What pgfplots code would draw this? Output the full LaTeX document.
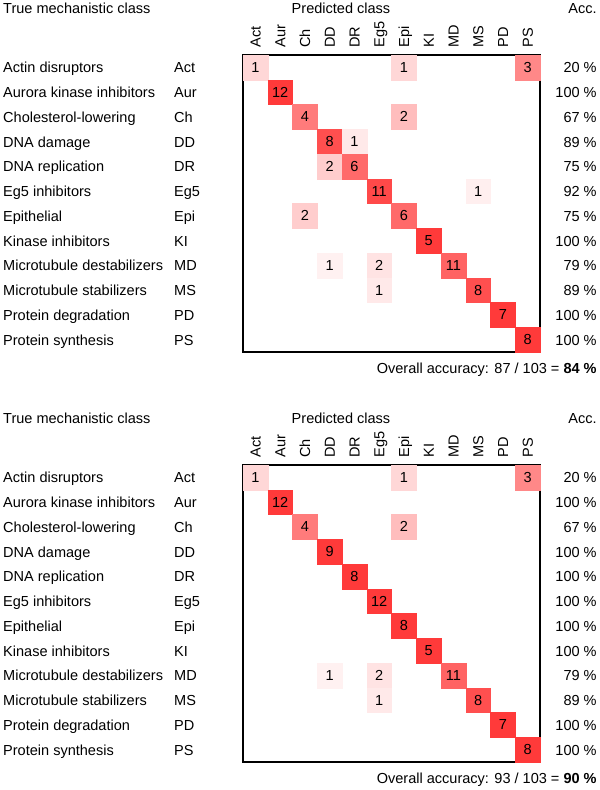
\documentclass[border=0pt]{standalone}
\usepackage{pgfplots}
\usepackage{pgfplotstable}
\pgfplotsset{compat=1.18}
\usepackage{fontspec}
\setmainfont{Liberation Sans}
\newcommand\ff{\fontsize{10.9}{13}\selectfont}

% x = predicted column, y = true row, v = count, f = count / row total
\pgfplotstableread{
x y v f
0 0 1 0.2
6 0 1 0.2
11 0 3 0.6
1 1 12 1
2 2 4 0.667
6 2 2 0.333
3 3 8 0.889
4 3 1 0.111
3 4 2 0.25
4 4 6 0.75
5 5 11 0.917
9 5 1 0.083
2 6 2 0.25
6 6 6 0.75
7 7 5 1
3 8 1 0.071
5 8 2 0.143
8 8 11 0.786
5 9 1 0.111
9 9 8 0.889
10 10 7 1
11 11 8 1
}\tabA

\pgfplotstableread{
x y v f
0 0 1 0.2
6 0 1 0.2
11 0 3 0.6
1 1 12 1
2 2 4 0.667
6 2 2 0.333
3 3 9 1
4 4 8 1
5 5 12 1
6 6 8 1
7 7 5 1
3 8 1 0.071
5 8 2 0.143
8 8 11 0.786
5 9 1 0.111
9 9 8 0.889
10 10 7 1
11 11 8 1
}\tabB

\pgfplotsset{
  cm/.style={
    scale only axis, width=222.75pt, height=222.75pt,
    xmin=-0.5, xmax=11.5, ymin=-0.5, ymax=11.5, y dir=reverse,
    xtick=\empty, ytick=\empty, clip=false,
    axis line style={line width=1.1pt},
    anchor=north west,
    colormap={wr}{rgb255(0cm)=(255,255,255); rgb255(1cm)=(255,58,58)},
    point meta min=0, point meta max=1,
  },
  cells/.style={
    scatter, only marks, mark=square*, mark size=9.2pt,
    scatter/use mapped color={draw=mapped color, fill=mapped color},
    mark options={line width=0.2pt},
    point meta=explicit,
  },
  nums/.style={
    only marks, mark=none,
    point meta=explicit symbolic,
    nodes near coords,
    nodes near coords style={anchor=center, text=black, font=\ff, inner sep=0pt},
  },
}

\newcommand\rowlab[4]{%
  \node[anchor=base west, inner sep=0pt, font=\ff] at (axis cs:-10.2,#1+0.22) {#2};
  \node[anchor=base west, inner sep=0pt, font=\ff] at (axis cs:-3.29,#1+0.22) {#3};
  \node[anchor=base east, inner sep=0pt, font=\ff] at (axis cs:13.8,#1+0.22) {#4};
}
\newcommand\collab[2]{%
  \node[rotate=90, anchor=base west, inner sep=0pt, font=\ff] at (axis cs:#1+0.21,-0.79) {#2};
}
\newcommand\common{%
  \node[anchor=base west, inner sep=0pt, font=\ff] at (axis cs:-10.2,-2.16) {True mechanistic class};
  \node[anchor=base, inner sep=0pt, font=\ff] at (axis cs:3.46,-2.16) {Predicted class};
  \node[anchor=base east, inner sep=0pt, font=\ff] at (axis cs:13.8,-2.16) {Acc.};
  \collab{0}{Act}\collab{1}{Aur}\collab{2}{Ch}\collab{3}{DD}\collab{4}{DR}\collab{5}{Eg5}
  \collab{6}{Epi}\collab{7}{KI}\collab{8}{MD}\collab{9}{MS}\collab{10}{PD}\collab{11}{PS}
}

\begin{document}
\ff
\begin{tikzpicture}
\path[use as bounding box] (0,0) rectangle (450pt,-592.5pt);

\begin{axis}[cm, at={(182.25pt,-41.25pt)}]
\addplot[cells] table[x=x, y=y, meta=f] {\tabA};
\addplot[nums] table[x=x, y=y, meta=v] {\tabA};
\common
\rowlab{0}{Actin disruptors}{Act}{20 \%}
\rowlab{1}{Aurora kinase inhibitors}{Aur}{100 \%}
\rowlab{2}{Cholesterol-lowering}{Ch}{67 \%}
\rowlab{3}{DNA damage}{DD}{89 \%}
\rowlab{4}{DNA replication}{DR}{75 \%}
\rowlab{5}{Eg5 inhibitors}{Eg5}{92 \%}
\rowlab{6}{Epithelial}{Epi}{75 \%}
\rowlab{7}{Kinase inhibitors}{KI}{100 \%}
\rowlab{8}{Microtubule destabilizers}{MD}{79 \%}
\rowlab{9}{Microtubule stabilizers}{MS}{89 \%}
\rowlab{10}{Protein degradation}{PD}{100 \%}
\rowlab{11}{Protein synthesis}{PS}{100 \%}
\node[anchor=base east, inner sep=0pt, font=\ff] at (axis cs:13.8,12.35) {Overall accuracy: 87 / 103 = \textbf{84 \%}};
\end{axis}

\begin{axis}[cm, at={(182.25pt,-348.75pt)}]
\addplot[cells] table[x=x, y=y, meta=f] {\tabB};
\addplot[nums] table[x=x, y=y, meta=v] {\tabB};
\common
\rowlab{0}{Actin disruptors}{Act}{20 \%}
\rowlab{1}{Aurora kinase inhibitors}{Aur}{100 \%}
\rowlab{2}{Cholesterol-lowering}{Ch}{67 \%}
\rowlab{3}{DNA damage}{DD}{100 \%}
\rowlab{4}{DNA replication}{DR}{100 \%}
\rowlab{5}{Eg5 inhibitors}{Eg5}{100 \%}
\rowlab{6}{Epithelial}{Epi}{100 \%}
\rowlab{7}{Kinase inhibitors}{KI}{100 \%}
\rowlab{8}{Microtubule destabilizers}{MD}{79 \%}
\rowlab{9}{Microtubule stabilizers}{MS}{89 \%}
\rowlab{10}{Protein degradation}{PD}{100 \%}
\rowlab{11}{Protein synthesis}{PS}{100 \%}
\node[anchor=base east, inner sep=0pt, font=\ff] at (axis cs:13.8,12.35) {Overall accuracy: 93 / 103 = \textbf{90 \%}};
\end{axis}
\end{tikzpicture}
\end{document}
